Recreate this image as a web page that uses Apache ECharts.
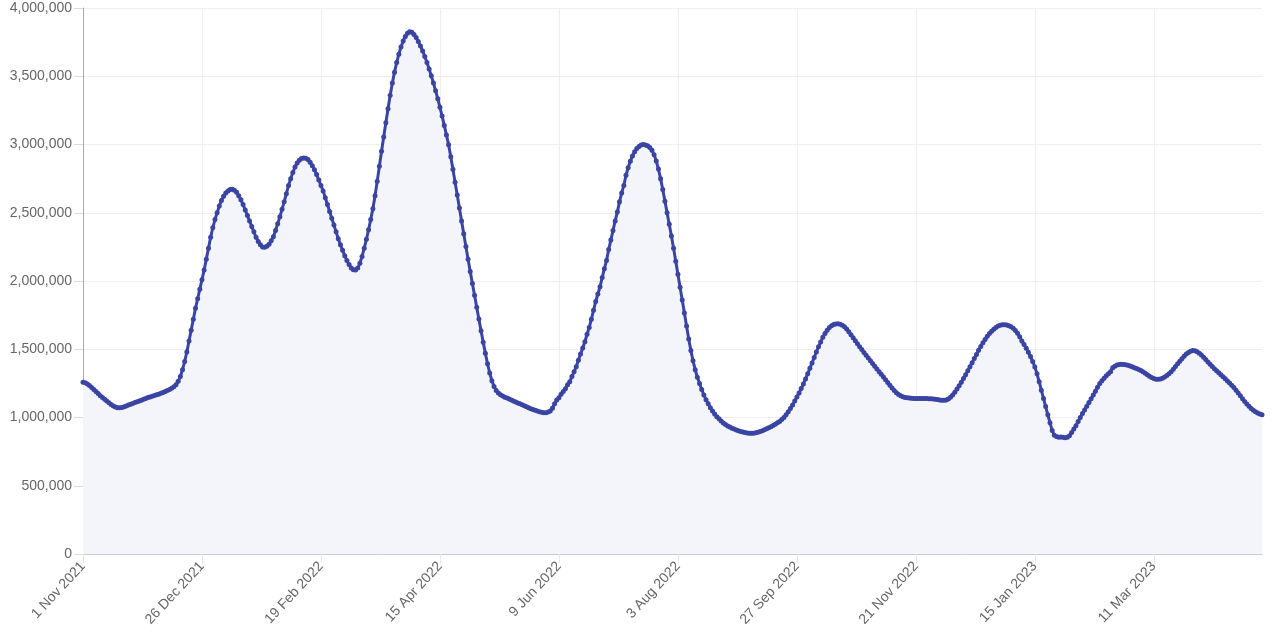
<!DOCTYPE html>
<html>
<head>
<meta charset="utf-8">
<script src="https://cdn.jsdelivr.net/npm/echarts@6/dist/echarts.min.js"></script>
<style>
html,body{margin:0;padding:0;background:#fff;}
#chart{width:1272px;height:636px;}
</style>
</head>
<body>
<div id="chart"></div>
<script>
// Daily series starting 1 Nov 2021 (values in thousands)
const startDate = [2021, 10, 1]; // year, month index, day
const monthNames = ['Jan','Feb','Mar','Apr','May','Jun','Jul','Aug','Sep','Oct','Nov','Dec'];
const valuesK = [
1258,1254,1246,1234,1220,1205,1190,1175,1160,1146,
1133,1120,1108,1096,1085,1077,1072,1071,1074,1079,
1085,1091,1097,1103,1109,1115,1121,1127,1133,1140,
1146,1151,1156,1161,1166,1171,1177,1183,1190,1197,
1205,1214,1225,1240,1265,1300,1350,1410,1480,1560,
1640,1720,1800,1870,1940,2010,2080,2160,2240,2320,
2390,2450,2500,2550,2590,2620,2645,2660,2670,2672,
2665,2650,2625,2595,2560,2520,2480,2440,2400,2360,
2320,2290,2265,2250,2247,2255,2270,2295,2325,2370,
2420,2470,2525,2580,2640,2700,2750,2795,2835,2865,
2885,2897,2902,2900,2890,2870,2845,2815,2780,2740,
2700,2660,2610,2560,2510,2460,2410,2360,2310,2265,
2225,2185,2150,2120,2095,2082,2080,2095,2130,2180,
2240,2305,2375,2450,2530,2625,2730,2840,2950,3055,
3160,3262,3360,3450,3530,3600,3662,3715,3758,3792,
3815,3826,3822,3806,3783,3755,3722,3685,3645,3600,
3553,3503,3450,3394,3335,3273,3208,3140,3070,2998,
2910,2818,2724,2630,2535,2440,2346,2252,2160,2070,
1982,1895,1808,1722,1636,1552,1470,1394,1326,1270,
1228,1198,1180,1167,1157,1149,1142,1135,1128,1121,
1114,1107,1100,1093,1086,1079,1072,1065,1059,1053,
1047,1042,1038,1035,1035,1040,1048,1068,1100,1128,
1145,1170,1190,1210,1240,1262,1300,1335,1372,1420,
1465,1510,1555,1610,1660,1720,1785,1850,1905,1958,
2025,2090,2150,2230,2300,2370,2440,2505,2580,2645,
2700,2775,2830,2878,2915,2947,2970,2985,2996,3000,
2997,2990,2978,2958,2925,2880,2820,2750,2670,2585,
2500,2415,2330,2240,2145,2050,1955,1860,1765,1670,
1575,1490,1415,1350,1295,1250,1205,1165,1130,1100,
1072,1048,1025,1005,990,975,960,948,938,930,
922,915,908,903,898,894,890,887,885,884,
885,888,892,897,903,910,917,925,933,942,
951,961,971,985,1000,1020,1042,1066,1092,1120,
1150,1180,1212,1246,1282,1320,1360,1400,1440,1480,
1518,1554,1587,1616,1640,1660,1673,1681,1685,1686,
1683,1676,1665,1648,1628,1607,1585,1563,1541,1519,
1498,1477,1456,1436,1416,1396,1376,1356,1336,1316,
1296,1276,1256,1236,1216,1198,1182,1169,1159,1152,
1147,1144,1142,1141,1140,1140,1140,1140,1140,1140,
1139,1138,1137,1135,1133,1131,1129,1127,1126,1128,
1135,1148,1165,1185,1208,1232,1258,1285,1313,1342,
1372,1402,1432,1462,1492,1520,1547,1572,1595,1615,
1632,1647,1660,1670,1676,1679,1680,1678,1673,1665,
1653,1637,1617,1592,1560,1535,1508,1478,1446,1410,
1370,1320,1262,1200,1140,1080,1020,962,905,870,
860,856,858,856,852,855,866,890,915,940,
970,1000,1030,1055,1082,1110,1138,1165,1193,1222,
1250,1270,1288,1305,1320,1335,1365,1376,1384,1388,
1390,1389,1386,1382,1377,1371,1365,1359,1352,1344,
1335,1325,1314,1303,1293,1285,1281,1280,1282,1288,
1296,1307,1320,1336,1354,1373,1393,1412,1431,1449,
1465,1477,1486,1490,1489,1482,1471,1457,1441,1424,
1407,1390,1374,1358,1343,1328,1313,1298,1283,1268,
1252,1236,1219,1200,1180,1159,1138,1118,1099,1082,
1066,1053,1042,1033,1026,1020
];
const yTicks = {min: 0, max: 4000000, interval: 500000};
const labelEvery = 55;

const categories = valuesK.map((v, i) => {
  const d = new Date(Date.UTC(startDate[0], startDate[1], startDate[2] + i));
  return d.getUTCDate() + ' ' + monthNames[d.getUTCMonth()] + ' ' + d.getUTCFullYear();
});
const values = valuesK.map(v => v * 1000);

const chart = echarts.init(document.getElementById('chart'), null, {renderer: 'canvas'});
const fontFam = '"Liberation Sans", Arial, Helvetica, sans-serif';
chart.setOption({
  animation: false,
  grid: {left: 83, right: 10, top: 8, bottom: 82, containLabel: false},
  xAxis: {
    type: 'category',
    data: categories,
    boundaryGap: false,
    axisLine: {show: true, lineStyle: {color: '#cccccc', width: 1}},
    axisTick: {show: true, interval: labelEvery - 1, length: 9, lineStyle: {color: '#e6e6e6'}},
    axisLabel: {interval: labelEvery - 1, rotate: 47, color: '#666666', fontSize: 14, fontFamily: fontFam, margin: 10},
    splitLine: {show: true, interval: labelEvery - 1, lineStyle: {color: '#eeeeee', width: 1}}
  },
  yAxis: {
    type: 'value',
    min: yTicks.min, max: yTicks.max, interval: yTicks.interval,
    axisLine: {show: true, lineStyle: {color: '#aaaaaa', width: 1}},
    axisTick: {show: true, length: 9, lineStyle: {color: '#dddddd'}},
    axisLabel: {color: '#666666', fontSize: 14, fontFamily: fontFam, margin: 11,
      formatter: v => v.toLocaleString('en-US')},
    splitLine: {show: true, lineStyle: {color: '#eeeeee', width: 1}}
  },
  series: [{
    type: 'line',
    data: values,
    smooth: false,
    showSymbol: true,
    showAllSymbol: true,
    symbol: 'circle',
    symbolSize: 5,
    itemStyle: {color: '#3a44a3'},
    lineStyle: {color: '#3a44a3', width: 3},
    areaStyle: {color: '#f4f5fb', opacity: 1}
  }]
});
</script>
</body>
</html>
